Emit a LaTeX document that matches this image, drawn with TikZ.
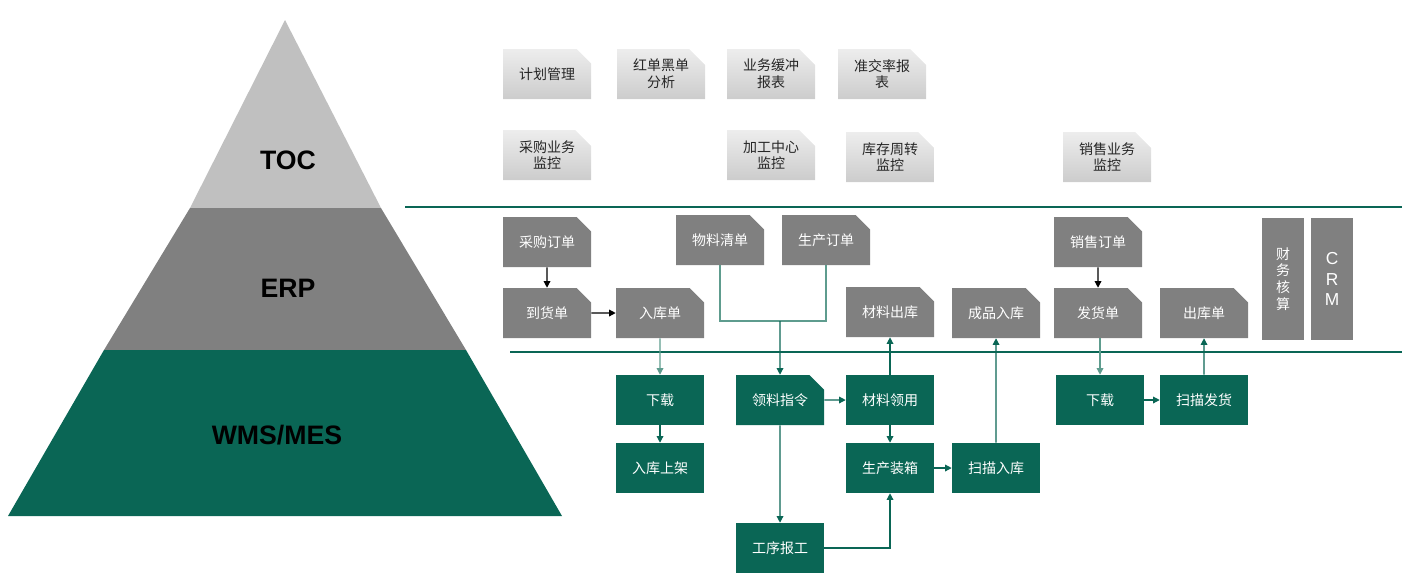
\documentclass[tikz,border=0pt]{standalone}
\usepackage{fontspec}
\setmainfont{Liberation Sans}
\newfontfamily\cjk{Noto Sans CJK SC}
\usetikzlibrary{shapes.misc,arrows.meta}
\definecolor{dg}{HTML}{0A6655}
\definecolor{mg}{HTML}{808080}
\definecolor{lg}{HTML}{C0C0C0}
\definecolor{lk}{HTML}{5E9C8E}
\begin{document}
\begin{tikzpicture}[x=0.75pt,y=-0.75pt,
 base/.style={inner sep=0pt,minimum width=66pt,minimum height=37.5pt,align=center,font=\cjk\fontsize{10.5}{12.5}\selectfont},
 cut/.style={chamfered rectangle,chamfered rectangle corners=north east,chamfered rectangle xsep=6pt,chamfered rectangle ysep=6pt},
 top/.style={base,cut,top color=white!93!black,bottom color=white!80!black,text=black!85},
 erp/.style={base,cut,fill=mg,text=white},
 wms/.style={base,rectangle,fill=dg,text=white},
 wmsc/.style={base,cut,fill=dg,text=white},
 vert/.style={base,rectangle,fill=mg,text=white,minimum width=31pt,minimum height=91pt},
 ga/.style={draw=dg,line width=0.9pt,-{Triangle[length=5pt,width=5pt]}},
 la/.style={draw=lk,line width=0.9pt,-{Triangle[length=5pt,width=5pt]}},
 ba/.style={draw=black,line width=0.9pt,-{Triangle[length=5pt,width=5pt]}},
 pl/.style={font=\bfseries\fontsize{20}{22}\selectfont}]
\useasboundingbox (0,0) rectangle (1402,583);
% pyramid
\fill[lg] (285,20) -- (381,208) -- (190,208) -- cycle;
\fill[mg] (190,208) -- (381,208) -- (466,350) -- (104,350) -- cycle;
\fill[dg] (104,350) -- (466,350) -- (562,516) -- (8,516) -- cycle;
\node[pl] (ptoc) at (288,160) {TOC};
\node[pl] (perp) at (288,288) {ERP};
\node[pl] (pwms) at (277,435) {WMS/MES};
% separator lines
\coordinate (l1a) at (405,207); \coordinate (l1b) at (1402,207);
\coordinate (l2a) at (510,352); \coordinate (l2b) at (1402,352);
\draw[dg,line width=0.9pt] (l1a) -- (l1b);
\draw[dg,line width=0.9pt] (l2a) -- (l2b);
% TOC boxes
\node[top] (t1) at (547,74) {计划管理};
\node[top] (t2) at (661,74) {红单黑单\\分析};
\node[top] (t3) at (771,74) {业务缓冲\\报表};
\node[top] (t4) at (882,74) {准交率报\\表};
\node[top] (t5) at (547,155) {采购业务\\监控};
\node[top] (t6) at (771,155) {加工中心\\监控};
\node[top] (t7) at (890,157) {库存周转\\监控};
\node[top] (t8) at (1107,157) {销售业务\\监控};
% ERP boxes
\node[erp] (cgdd) at (547,242) {采购订单};
\node[erp] (dhd) at (547,313) {到货单};
\node[erp] (rkd) at (660,313) {入库单};
\node[erp] (wlqd) at (720,240) {物料清单};
\node[erp] (scdd) at (826,240) {生产订单};
\node[erp] (clck) at (890,312) {材料出库};
\node[erp] (cprk) at (996,313) {成品入库};
\node[erp] (xsdd) at (1098,242) {销售订单};
\node[erp] (fhd) at (1098,313) {发货单};
\node[erp] (ckd) at (1204,313) {出库单};
\node[vert] (cwhs) at (1283,279) {财\\务\\核\\算};
\node[vert,font=\fontsize{13}{15.5}\selectfont] (crm) at (1332,279) {C\\R\\M};
% WMS boxes
\node[wms] (xz1) at (660,400) {下载};
\node[wmsc] (llzl) at (780,400) {领料指令};
\node[wms] (clly) at (890,400) {材料领用};
\node[wms] (rksj) at (660,468) {入库上架};
\node[wms] (sczx) at (890,468) {生产装箱};
\node[wms] (smrk) at (996,468) {扫描入库};
\node[wms] (gxbg) at (780,548) {工序报工};
\node[wms] (xz2) at (1100,400) {下载};
\node[wms] (smfh) at (1204,400) {扫描发货};
% connectors
\draw[ba] (cgdd) -- (dhd);
\draw[ba] (dhd) -- (rkd);
\draw[ba] (xsdd) -- (fhd);
\draw[la] (rkd) -- (xz1);
\draw[la] (fhd.south -| xz2) -- (xz2);
\draw[la,-] (wlqd.south) |- (llzl.north |- 0,321) -| (scdd.south);
\draw[ga] (llzl.north |- 0,321) -- (llzl);
\draw[ga] (llzl) -- (clly);
\draw[ga] (clly) -- (clck);
\draw[ga] (clly) -- (sczx);
\draw[ga] (xz1) -- (rksj);
\draw[ga] (llzl) -- (gxbg);
\draw[ga] (gxbg) -| (sczx);
\draw[ga] (sczx) -- (smrk);
\draw[ga] (smrk) -- (cprk);
\draw[ga] (xz2) -- (smfh);
\draw[ga] (smfh) -- (ckd);
\end{tikzpicture}
\end{document}
